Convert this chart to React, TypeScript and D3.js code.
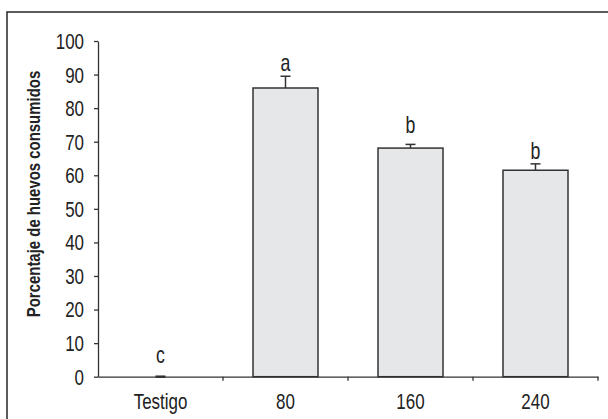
import React, { useRef, useEffect } from 'react';
import * as d3 from 'd3';

const categories = ['Testigo', '80', '160', '240'];
const values = [0, 86.0, 68.1, 61.5];
const errors = [0, 3.5, 1.1, 1.9];
const letters = ['c', 'a', 'b', 'b'];
const letterAt = [4.1, 91.2, 72.5, 64.8];
const yTicks = [0, 10, 20, 30, 40, 50, 60, 70, 80, 90, 100];

export default function App() {
  const ref = useRef<SVGSVGElement>(null);

  useEffect(() => {
    const svg = d3.select(ref.current);
    svg.selectAll('*').remove();

    const width = 608;
    const height = 419;
    const font = '"Liberation Sans", Arial, sans-serif';
    const ink = '#333';
    const squeeze = 0.77; // fake a condensed face

    const x = d3.scaleBand<string>().domain(categories).range([98, 598]).padding(0);
    const y = d3.scaleLinear().domain([0, 100]).range([376.7, 41]);
    const barW = x.bandwidth() * 0.52;
    const cx = (i: number) => (x(categories[i]) as number) + x.bandwidth() / 2;

    svg.attr('width', width).attr('height', height);

    // frame (cut off at right and bottom)
    svg
      .append('rect')
      .attr('x', 7)
      .attr('y', 12)
      .attr('width', width + 20)
      .attr('height', height + 20)
      .attr('fill', 'none')
      .attr('stroke', ink)
      .attr('stroke-width', 1.6);

    // bars
    svg
      .selectAll('.bar')
      .data(values)
      .join('rect')
      .attr('class', 'bar')
      .attr('x', (d, i) => cx(i) - barW / 2)
      .attr('y', d => y(d))
      .attr('width', barW)
      .attr('height', d => y(0) - y(d))
      .attr('fill', '#e6e7e9')
      .attr('stroke', ink)
      .attr('stroke-width', d => (d > 0 ? 1.5 : 0));

    // error bars
    const err = svg.append('g').attr('stroke', ink).attr('stroke-width', 1.5);
    values.forEach((v, i) => {
      const top = y(v + errors[i]);
      if (errors[i] > 0) {
        err.append('line').attr('x1', cx(i)).attr('x2', cx(i)).attr('y1', y(v)).attr('y2', top);
      }
      err
        .append('line')
        .attr('x1', cx(i) - 5)
        .attr('x2', cx(i) + 5)
        .attr('y1', top)
        .attr('y2', top)
        .attr('stroke-width', v === 0 ? 2.5 : 1.5);
    });

    // letters
    svg
      .selectAll('.letter')
      .data(letters)
      .join('text')
      .attr('class', 'letter')
      .attr('transform', (d, i) => `translate(${cx(i)},${y(letterAt[i])}) scale(${squeeze},1)`)
      .attr('text-anchor', 'middle')
      .attr('font-family', font)
      .attr('font-size', 23)
      .attr('fill', '#222')
      .text(d => d);

    // Y axis
    const yAxis = svg
      .append('g')
      .attr('transform', 'translate(98,0)')
      .call(d3.axisLeft(y).tickValues(yTicks).tickSize(4).tickFormat(() => '').tickSizeOuter(0));
    yAxis.select('.domain').attr('stroke', ink).attr('stroke-width', 1.3);
    yAxis.selectAll('.tick line').attr('stroke', ink).attr('stroke-width', 1.3);

    svg
      .selectAll('.ylab')
      .data(yTicks)
      .join('text')
      .attr('class', 'ylab')
      .attr('transform', d => `translate(84,${y(d)}) scale(${squeeze},1)`)
      .attr('dy', '0.36em')
      .attr('text-anchor', 'end')
      .attr('font-family', font)
      .attr('font-size', 22)
      .attr('fill', '#222')
      .text(d => d);

    // X axis
    const xAxis = svg
      .append('g')
      .attr('transform', `translate(0,${y(0)})`)
      .call(d3.axisBottom(x).tickSize(0).tickFormat(() => ''));
    xAxis.select('.domain').attr('stroke', ink).attr('stroke-width', 1.3);

    // category boundary ticks
    xAxis
      .selectAll('.sep')
      .data(categories)
      .join('line')
      .attr('class', 'sep')
      .attr('x1', d => (x(d) as number) + x.bandwidth())
      .attr('x2', d => (x(d) as number) + x.bandwidth())
      .attr('y1', 0)
      .attr('y2', 4)
      .attr('stroke', ink)
      .attr('stroke-width', 1.3);

    svg
      .selectAll('.xlab')
      .data(categories)
      .join('text')
      .attr('class', 'xlab')
      .attr('transform', (d, i) => `translate(${cx(i)},409) scale(${squeeze},1)`)
      .attr('text-anchor', 'middle')
      .attr('font-family', font)
      .attr('font-size', 22)
      .attr('fill', '#222')
      .text(d => d);

    // Y title
    svg
      .append('text')
      .attr('transform', `translate(40,194) rotate(-90) scale(0.83,1)`)
      .attr('text-anchor', 'middle')
      .attr('font-family', font)
      .attr('font-weight', 'bold')
      .attr('font-size', 18)
      .attr('fill', '#222')
      .text('Porcentaje de huevos consumidos');
  }, []);

  return <svg ref={ref} style={{ position: 'absolute', left: 0, top: 0 }} />;
}
